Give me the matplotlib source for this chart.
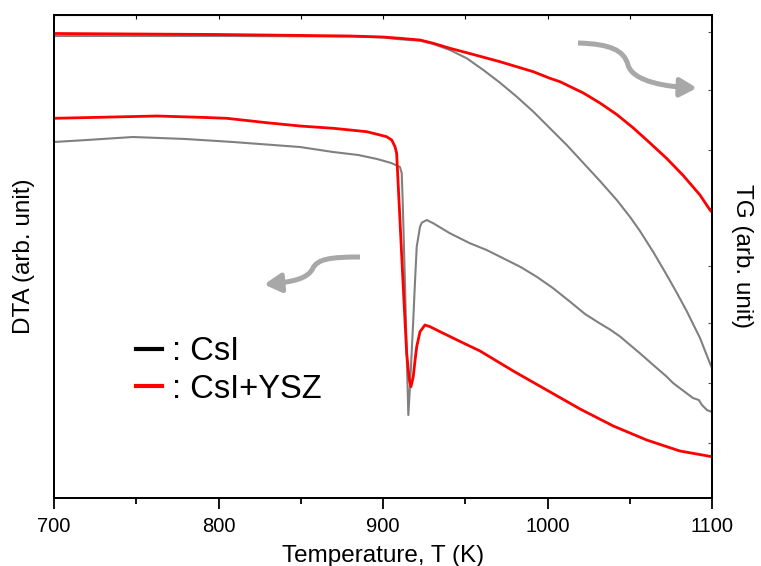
import matplotlib
matplotlib.use('Agg')
import matplotlib.pyplot as plt
from matplotlib.lines import Line2D
from matplotlib.patches import FancyArrowPatch
from matplotlib.path import Path
from matplotlib.ticker import MultipleLocator, FixedLocator, NullFormatter
import matplotlib.transforms as mtransforms

plt.rcParams['font.family'] = ['Liberation Sans', 'DejaVu Sans']

# DTA (left axis, arb. unit)
dta_csi_T = [700, 720, 748, 780, 808.8, 849.5, 869.6, 885, 896.4, 905, 910.3, 911.4,
             912.0, 913.4, 914.4, 915.4, 916.4, 917.4, 918.4, 919.5, 920.5, 922.5,
             923.6, 926.6, 930.6, 940.7, 952.9, 963.0, 973.1, 983.3, 993.4, 1003.5,
             1013.7, 1022.8, 1031.9, 1038.0, 1044.1, 1050.2, 1056.2, 1064.3, 1072.5,
             1076.3, 1088.4, 1092.0, 1093.9, 1096.9, 1100]
dta_csi = [356, 358, 361, 359, 356, 351, 346, 343, 339, 335, 331, 324.7,
           295, 211.3, 144.7, 83, 111.3, 144.7, 178, 218, 251.3, 271.3,
           275.3, 278, 274.7, 264.7, 254.7, 248, 239.7, 231.3, 221.3, 209.7,
           196.3, 184, 174.5, 168.5, 161.5, 153, 144.7, 133, 121.3,
           115, 100, 98, 93, 88, 86]

dta_ysz_T = [700, 728.0, 762.4, 788.8, 805.0, 829.3, 849.5, 869.8, 890.1, 898.2, 902.2,
             905.3, 907.3, 908.3, 909.3, 910.3, 912.3, 914.4, 916.0, 917.0, 918.4,
             919.5, 920.5, 922.5, 925.5, 928.6, 934.7, 948.8, 959, 979.2, 999.5,
             1019.8, 1040.0, 1060.3, 1080.5, 1100]
dta_ysz = [379.7, 380.7, 382, 380.7, 379.7, 375.3, 372, 369.7, 366.3, 363, 361.3,
           358, 351.3, 344.7, 311.3, 278, 211.3, 144.7, 118, 111.3, 121.3,
           138, 151.3, 166.3, 173, 171.3, 166.3, 155, 147, 127, 108,
           89, 72, 58, 47, 41.3]

# TG (right axis, arb. unit)
tg_csi_T = [700, 800, 880, 900, 910.3, 922.5, 930.6, 940.7, 950.9, 961.0, 971.1,
            981.3, 991.4, 1001.5, 1007.6, 1011.7, 1021.8, 1031.9, 1042.1, 1050.2,
            1056.2, 1064.3, 1072.5, 1078.5, 1084.6, 1092.7, 1098.8, 1100]
tg_csi = [462, 462, 461.5, 460.5, 458.7, 457.3, 454, 448, 439.7, 428, 415.3,
          401.3, 386.3, 369.7, 359.7, 353, 335, 317, 298, 281,
          267, 246, 223, 205.5, 187, 160, 134.5, 130]

tg_ysz_T = [700, 800, 880, 900, 910.3, 922.5, 930.6, 940.7, 950.9, 971.1, 991.4,
            1001.5, 1007.6, 1021.8, 1031.9, 1042.1, 1052.2, 1062.3, 1072.5, 1082.5,
            1092.7, 1098.8, 1100]
tg_ysz = [464.5, 463.5, 462, 461, 459.7, 458, 454.7, 449.7, 445.3, 436.3, 426.3,
          419.7, 416.3, 405, 395, 383.5, 370, 355, 339.5, 322.5,
          303, 288, 286]

legend_labels = [': CsI', ': CsI+YSZ']
x_ticks = [700, 800, 900, 1000, 1100]

GRAY = '#808080'
RED = '#ff0000'
ARROW = '#a8a8a8'

fig = plt.figure(figsize=(7.61, 5.66), dpi=100)
ax = fig.add_axes([54 / 761, 68 / 566, 658 / 761, 483 / 566])
ax2 = ax.twinx()

ax.plot(dta_csi_T, dta_csi, color=GRAY, lw=1.5)
ax.plot(dta_ysz_T, dta_ysz, color=RED, lw=2.0)
ax2.plot(tg_csi_T, tg_csi, color=GRAY, lw=1.5)
ax2.plot(tg_ysz_T, tg_ysz, color=RED, lw=2.0)

for a in (ax, ax2):
    a.set_xlim(700, 1100)
    a.set_ylim(0, 483)
    for s in a.spines.values():
        s.set_linewidth(1.3)

ax.set_xticks(x_ticks)
ax.xaxis.set_minor_locator(MultipleLocator(50))
ax.tick_params(axis='x', which='major', direction='out', length=8, width=1.3,
               labelsize=14.5, pad=6)
ax.tick_params(axis='x', which='minor', direction='out', length=4, width=1.3)
ax.set_yticks([])

ax2.yaxis.set_major_locator(FixedLocator([55, 115, 175, 232, 290, 348, 408, 466]))
ax2.yaxis.set_major_formatter(NullFormatter())
ax2.tick_params(axis='y', direction='in', length=3, width=0.8, colors='#555555')

top = ax.secondary_xaxis('top')
top.xaxis.set_major_locator(MultipleLocator(50))
top.xaxis.set_major_formatter(NullFormatter())
top.tick_params(direction='in', length=3, width=0.8)

ax.set_xlabel('Temperature, T (K)', fontsize=17.5, labelpad=6)
ax.set_ylabel('DTA (arb. unit)', fontsize=17.5, labelpad=14)
ax2.set_ylabel('TG (arb. unit)', fontsize=17.5, rotation=270, labelpad=26)

handles = [Line2D([], [], color='black', lw=3), Line2D([], [], color=RED, lw=3)]
ax.legend(handles, legend_labels, loc='upper left', bbox_to_anchor=(0.105, 0.362),
          frameon=False, fontsize=23.5, handlelength=0.8, handletextpad=0.3,
          labelspacing=0.2, borderaxespad=0)

# curved arrows, drawn in image pixel coordinates
px = mtransforms.Affine2D().scale(1 / 761, -1 / 566).translate(0, 1) + fig.transFigure
left_arrow = Path([(360, 257), (330, 257), (318, 259), (313, 268),
                   (308, 279), (292, 282), (264, 284.5)],
                  [Path.MOVETO, Path.CURVE4, Path.CURVE4, Path.CURVE4,
                   Path.CURVE4, Path.CURVE4, Path.CURVE4])
right_arrow = Path([(578, 43), (610, 44), (624, 50), (628, 65),
                    (633, 82), (668, 87), (697, 88)],
                   [Path.MOVETO, Path.CURVE4, Path.CURVE4, Path.CURVE4,
                    Path.CURVE4, Path.CURVE4, Path.CURVE4])
for p in (left_arrow, right_arrow):
    arr = FancyArrowPatch(path=p, transform=px, arrowstyle='-|>,head_length=0.5,head_width=0.28',
                          mutation_scale=20, lw=3.6, color=ARROW, capstyle='butt')
    fig.add_artist(arr)

fig.savefig('out.png', dpi=100)
